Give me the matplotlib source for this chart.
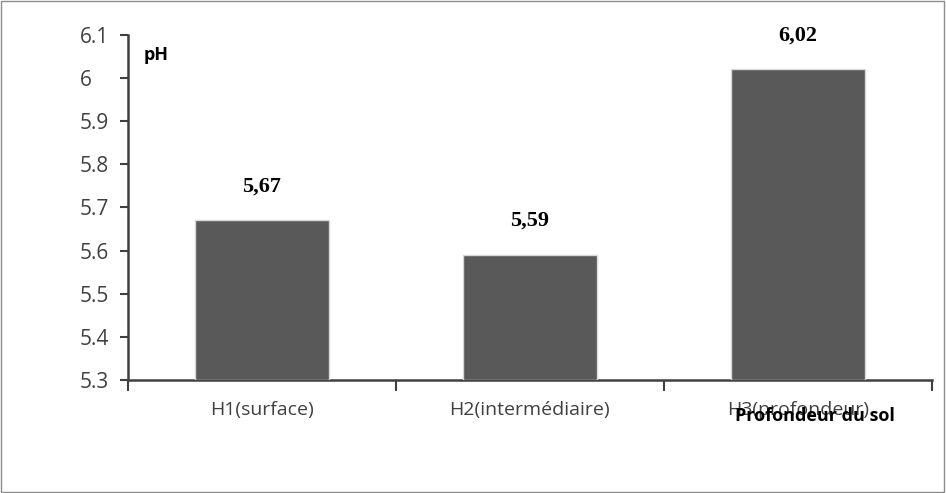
import matplotlib.pyplot as plt
from matplotlib.patches import Rectangle

# Données
categories = ['H1(surface)', 'H2(intermédiaire)', 'H3(profondeur)']
valeurs = [5.67, 5.59, 6.02]
etiquettes = ['5,67', '5,59', '6,02']
yticks = [5.3, 5.4, 5.5, 5.6, 5.7, 5.8, 5.9, 6.0, 6.1]
ytick_labels = ['5.3', '5.4', '5.5', '5.6', '5.7', '5.8', '5.9', '6', '6.1']

fig = plt.figure(figsize=(9.46, 4.93), dpi=100)
fig.patches.append(Rectangle((0.001, 0.002), 0.997, 0.996, transform=fig.transFigure,
                             fill=False, edgecolor='#8c8c8c', linewidth=1))
ax = fig.add_axes([0.1353, 0.2292, 0.8497, 0.700])

x = list(range(len(categories)))
bas = 5.3
ax.bar(x, [v - bas for v in valeurs], bottom=bas, width=0.5, color='#595959',
       edgecolor='#d9d9d9', linewidth=1, zorder=3)

for xi, v, t in zip(x, valeurs, etiquettes):
    ax.text(xi, v + 0.079, t, ha='center', va='center', fontsize=16,
            fontweight='bold', family='Liberation Serif', color='#000000')

ax.set_xlim(-0.5, 2.5)
ax.set_ylim(5.3, 6.1)

ax.set_yticks(yticks)
ax.set_yticklabels(ytick_labels, fontsize=15, family='Open Sans', color='#404040', ha='left')
ax.tick_params(axis='y', direction='out', length=6, width=1.5, color='#404040', pad=29)

ax.set_xticks([-0.5, 0.5, 1.5, 2.5])
ax.set_xticklabels([])
ax.set_xticks(x, minor=True)
ax.set_xticklabels(categories, minor=True, fontsize=14, family='Open Sans', color='#404040')
ax.tick_params(axis='x', which='major', direction='out', length=8, width=1.5, color='#404040')
ax.tick_params(axis='x', which='minor', length=0, pad=15)

for s in ['top', 'right']:
    ax.spines[s].set_visible(False)
for s in ['left', 'bottom']:
    ax.spines[s].set_color('#404040')
    ax.spines[s].set_linewidth(1.8)

ax.text(0.02, 0.942, 'pH', transform=ax.transAxes, fontsize=13, fontweight='bold',
        family='Open Sans', va='center', ha='left')
ax.text(0.855, -0.104, 'Profondeur du sol', transform=ax.transAxes, fontsize=13,
        fontweight='bold', family='Open Sans', va='center', ha='center')

fig.savefig('out.png', dpi=100)
